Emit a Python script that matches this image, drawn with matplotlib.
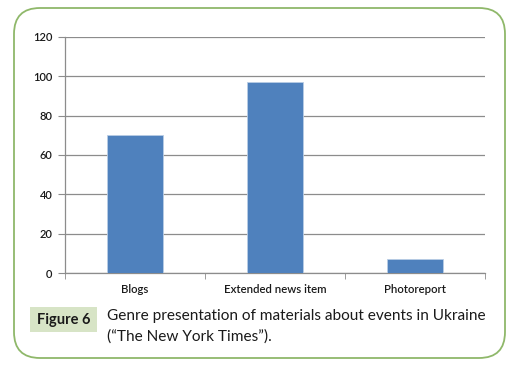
import matplotlib
matplotlib.use("Agg")
import matplotlib.pyplot as plt
from matplotlib.patches import FancyBboxPatch, Rectangle

categories = ["Blogs", "Extended news item", "Photoreport"]
values = [70, 97, 7]
yticks = [0, 20, 40, 60, 80, 100, 120]

W, H = 532, 381
fig = plt.figure(figsize=(W/100, H/100), dpi=100)
fig.patch.set_facecolor("white")

# background axes for frame and caption
bg = fig.add_axes([0, 0, 1, 1], zorder=-5)
bg.set_xlim(0, W)
bg.set_ylim(H, 0)
bg.axis("off")
bg.add_patch(FancyBboxPatch((14, 8), 505-14, 358-8,
                            boxstyle="round,pad=0,rounding_size=26",
                            facecolor="white", edgecolor="#8fb86a", linewidth=1.3))
bg.add_patch(Rectangle((30, 307), 67, 25, facecolor="#d7e4c6", edgecolor="none"))
bg.text(63.5, 320, "Figure 6", ha="center", va="center",
        fontsize=10.5, fontweight="bold", family="Lato", color="#1a1a1a")
bg.text(107, 316, "Genre presentation of materials about events in Ukraine",
        ha="left", va="center", fontsize=11.1, family="Lato", color="#1a1a1a")
bg.text(107, 337, "(\u201cThe New York Times\u201d).",
        ha="left", va="center", fontsize=11.1, family="Lato", color="#1a1a1a")

ax = fig.add_axes([65/W, 1-273/H, (485-65)/W, (273-37)/H])
ax.set_facecolor("none")
x = range(len(categories))
ax.bar(x, values, width=0.4, color="#4f81bd", edgecolor="#b9cde5", linewidth=0.6, zorder=3)
ax.set_xlim(-0.5, 2.5)
ax.set_ylim(0, 120)
ax.set_yticks(yticks)
ax.set_yticklabels([str(v) for v in yticks], fontsize=8, family="Lato",
                   fontweight="semibold", color="#1a1a1a")
ax.yaxis.grid(True, color="#8c8c8c", linewidth=0.9, zorder=0)
ax.set_xticks(list(x))
ax.set_xticklabels(categories, fontsize=8.2, family="Lato",
                   fontweight="semibold", color="#1a1a1a")
ax.set_xticks([-0.5, 0.5, 1.5, 2.5], minor=True)
ax.tick_params(axis="x", which="major", length=0, pad=8)
ax.tick_params(axis="x", which="minor", length=4, color="#8c8c8c")
ax.tick_params(axis="y", length=5, color="#8c8c8c", pad=4)
for s in ["top", "right"]:
    ax.spines[s].set_visible(False)
for s in ["left", "bottom"]:
    ax.spines[s].set_color("#8c8c8c")
    ax.spines[s].set_linewidth(0.9)

fig.savefig("out.png", dpi=100)
